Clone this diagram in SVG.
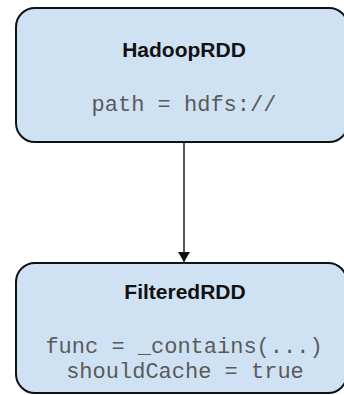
<svg xmlns="http://www.w3.org/2000/svg" width="344" height="395" viewBox="0 0 344 395">
<style>
.box{fill:#cfe2f3;stroke:#111;stroke-width:2}
.title{font-family:"Liberation Sans",Arial,sans-serif;font-weight:bold;font-size:21px;fill:#111;text-anchor:middle}
.code{font-family:"Liberation Mono","Courier New",monospace;font-size:22px;fill:#5a5a5a;text-anchor:middle}
.edge{stroke:#222;stroke-width:1.5;fill:none}
</style>
<defs>
<marker id="arrow" markerWidth="10" markerHeight="12" refX="10" refY="6" orient="auto" markerUnits="userSpaceOnUse">
<path d="M0,0 L10,6 L0,12 Z" fill="#111"/>
</marker>
</defs>
<rect width="344" height="395" fill="#ffffff"/>
<g id="connectors">
<line class="edge" x1="184" y1="143" x2="184" y2="262" marker-end="url(#arrow)"/>
</g>
<g id="HadoopRDD">
<rect class="box" x="16" y="8" width="332" height="134" rx="19" ry="19"/>
<text class="title" x="184" y="57">HadoopRDD</text>
<text class="code" x="184" y="111">path = hdfs://</text>
</g>
<g id="FilteredRDD">
<rect class="box" x="16" y="263" width="331" height="130" rx="19" ry="19"/>
<text class="title" x="185" y="299">FilteredRDD</text>
<text class="code" x="184" y="353">func = _contains(...)</text>
<text class="code" x="185" y="378">shouldCache = true</text>
</g>
</svg>
